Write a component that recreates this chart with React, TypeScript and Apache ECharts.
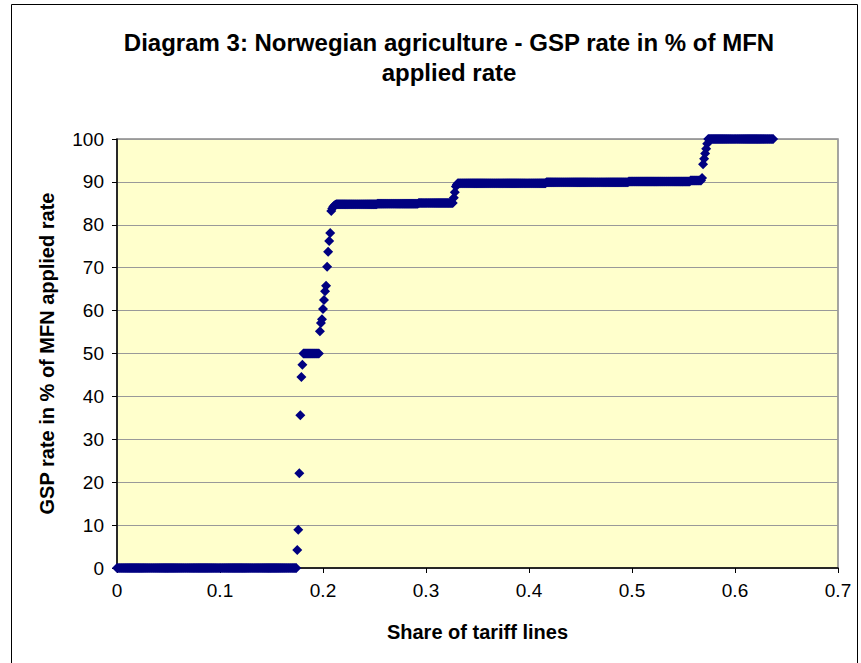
import React, { useEffect, useRef } from "react";
import * as echarts from "echarts";

// Chart texts
const titleLines = ["Diagram 3: Norwegian agriculture - GSP rate in % of MFN", "applied rate"];
const xAxisTitle = "Share of tariff lines";
const yAxisTitle = "GSP rate in % of MFN applied rate";

// Axis ranges / ticks
const xMin = 0;
const xMax = 0.7;
const xStep = 0.1;
const yMin = 0;
const yMax = 100;
const yStep = 10;

// Tariff lines sorted by GSP rate (run-length encoded): each rate value and how many
// tariff lines carry it; x = cumulative share of all tariff lines.
const totalTariffLines = 1000;
const rateValues = [
  0, 4.2, 8.9, 22.1, 35.6, 44.5, 47.4, 50,
  55.2, 57.1, 58.0, 60.4, 62.5, 64.5, 65.8, 70.2, 73.7, 76.2, 78.1, 83.2,
  83.8, 84.2, 84.5, 84.7, 84.8, 84.9, 85.1,
  86.3, 87.6, 88.9, 89.4, 89.7, 89.9, 90.1, 90.3,
  90.9, 94.1, 95.4, 96.6, 97.7, 98.9, 100,
];
const lineCounts = [
  175, 1, 1, 1, 1, 1, 1, 16,
  1, 1, 1, 1, 1, 1, 1, 1, 1, 1, 1, 1,
  1, 1, 1, 1, 40, 40, 34,
  1, 1, 1, 1, 86, 80, 60, 11,
  1, 1, 1, 1, 1, 1, 64,
];

const FONT = "'Liberation Sans', Arial, Helvetica, sans-serif";

function buildPoints(): [number, number][] {
  const pts: [number, number][] = [];
  let rank = 0;
  rateValues.forEach((rate, i) => {
    for (let c = 0; c < lineCounts[i]; c++) {
      pts.push([rank / totalTariffLines, rate]);
      rank++;
    }
  });
  return pts;
}

export default function App() {
  const ref = useRef<HTMLDivElement>(null);

  useEffect(() => {
    if (!ref.current) return;
    const chart = echarts.init(ref.current, undefined, { renderer: "svg" });
    const points = buildPoints();
    chart.setOption({
      animation: false,
      backgroundColor: "#ffffff",
      textStyle: { fontFamily: FONT },
      graphic: [
        {
          type: "rect",
          shape: { x: 11.5, y: 4.5, width: 846, height: 700 },
          style: { fill: "none", stroke: "#000000", lineWidth: 1 },
          z: -1,
        },
        {
          type: "text",
          x: 449,
          y: 42,
          style: {
            text: titleLines[0],
            font: `bold 24px ${FONT}`,
            fill: "#000000",
            textAlign: "center",
            textVerticalAlign: "middle",
          },
        },
        {
          type: "text",
          x: 449,
          y: 72,
          style: {
            text: titleLines[1],
            font: `bold 24px ${FONT}`,
            fill: "#000000",
            textAlign: "center",
            textVerticalAlign: "middle",
          },
        },
      ],
      grid: {
        left: 117,
        top: 139,
        width: 721,
        height: 429,
        show: true,
        backgroundColor: "#FFFFCC",
        borderColor: "#888888",
        borderWidth: 1.5,
      },
      xAxis: {
        type: "value",
        min: xMin,
        max: xMax,
        interval: xStep,
        name: xAxisTitle,
        nameLocation: "middle",
        nameGap: 54,
        nameTextStyle: { fontFamily: FONT, fontSize: 20, fontWeight: "bold", color: "#000" },
        axisLine: { show: true, onZero: false, lineStyle: { color: "#000000", width: 1.5 } },
        axisTick: { show: true, length: 5, inside: false, lineStyle: { color: "#000000" } },
        axisLabel: {
          margin: 13,
          fontFamily: FONT,
          fontSize: 19,
          color: "#000",
          formatter: (v: number) => String(Math.round(v * 10) / 10),
        },
        splitLine: { show: false },
      },
      yAxis: {
        type: "value",
        min: yMin,
        max: yMax,
        interval: yStep,
        name: yAxisTitle,
        nameLocation: "middle",
        nameGap: 60,
        nameTextStyle: { fontFamily: FONT, fontSize: 20, fontWeight: "bold", color: "#000" },
        axisLine: { show: true, onZero: false, lineStyle: { color: "#000000", width: 1.5 } },
        axisTick: { show: true, length: 5, inside: false, lineStyle: { color: "#000000" } },
        axisLabel: { margin: 13, fontFamily: FONT, fontSize: 19, color: "#000" },
        splitLine: { show: true, lineStyle: { color: "#999999", width: 1 } },
      },
      series: [
        {
          type: "scatter",
          data: points,
          symbol: "diamond",
          symbolSize: 10,
          clip: false,
          silent: true,
          itemStyle: { color: "#000080", opacity: 1 },
        },
      ],
    });
    return () => chart.dispose();
  }, []);

  return (
    <div
      ref={ref}
      style={{ position: "absolute", left: 0, top: 0, width: 861, height: 663 }}
    />
  );
}
